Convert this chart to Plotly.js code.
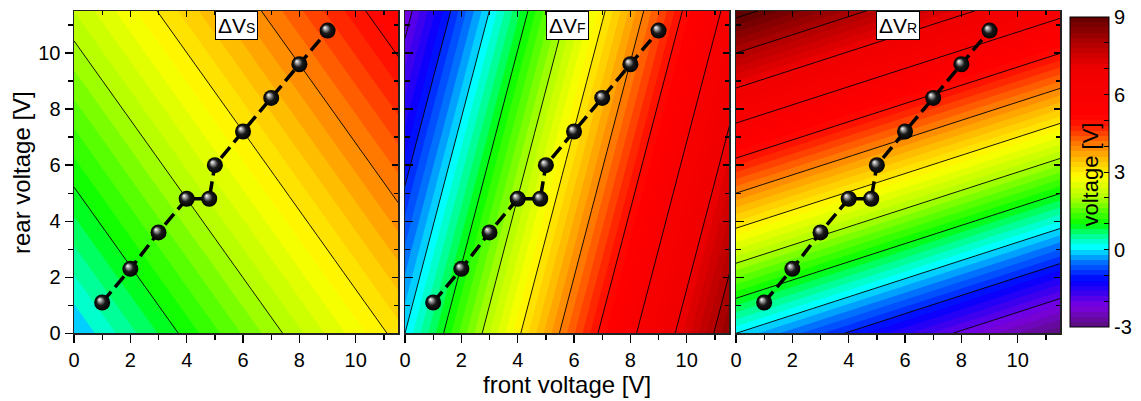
<!DOCTYPE html>
<html>
<head>
<meta charset="utf-8">
<script src="https://cdn.plot.ly/plotly-3.0.1.min.js"></script>
<style>html,body{margin:0;padding:0;background:#fff;}#chart{width:1141px;height:401px;}</style>
</head>
<body>
<div id="chart"></div>
<script>
// ---- data ----
const front = [1, 2, 3, 4, 4.8, 5, 6, 7, 8, 9];
const rear = [1.1, 2.3, 3.6, 4.8, 4.8, 6.0, 7.2, 8.4, 9.6, 10.8];

const gridFront = [0, 6, 12];
const gridRear = [0, 6, 12];
// rows = rear voltage, columns = front voltage
const dVS = [[0.00, 1.62, 3.24], [1.15, 2.77, 4.39], [2.30, 3.92, 5.54]];
const dVF = [[0.00, 4.38, 8.76], [-1.14, 3.24, 7.62], [-2.28, 2.10, 6.48]];
const dVR = [[0.00, -1.56, -3.12], [4.80, 3.24, 1.68], [9.60, 8.04, 6.48]];

const panelLabels = ['ΔV<span style="font-size:14px">S</span>', 'ΔV<span style="font-size:14px">F</span>', 'ΔV<span style="font-size:14px">R</span>'];
const axisTicks = [0, 2, 4, 6, 8, 10];
const cbTickVals = [-3, -2, -1, 0, 1, 2, 3, 4, 5, 6, 7, 8, 9];
const cbTickText = ['-3', '', '', '0', '', '', '3', '', '', '6', '', '', '9'];

// ---- styling ----
const FONT = 'Liberation Sans, Arial, sans-serif';
const colorscale = [
  [0.0, '#5a1078'], [0.0667, '#7a00e0'], [0.15, '#0000ff'], [0.2083, '#0070ff'],
  [0.2583, '#00ffff'], [0.3, '#00ff80'], [0.3333, '#00ff00'], [0.4167, '#b0ff00'],
  [0.4833, '#ffff00'], [0.5333, '#ffc800'], [0.5917, '#ff7800'], [0.65, '#ff1a00'],
  [0.6833, '#ff0000'], [0.8333, '#f00000'], [0.9167, '#b00000'], [1.0, '#600000']
];
const fields = [dVS, dVF, dVR];
const xDom = [[74 / 1141, 398 / 1141], [405 / 1141, 729 / 1141], [736 / 1141, 1060 / 1141]];
const yDom = [(401 - 333.3) / 401, (401 - 11) / 401];
const RANGE = [0, 11.5];

const traces = [];
const layout = {
  width: 1141, height: 401,
  margin: {l: 0, r: 0, t: 0, b: 0},
  paper_bgcolor: '#fff', plot_bgcolor: '#fff',
  showlegend: false,
  font: {family: FONT, size: 20, color: '#000'},
  annotations: []
};

function ax(id) { return id === 1 ? '' : String(id); }

for (let p = 0; p < 3; p++) {
  const xi = ax(p + 1), yi = ax(p + 1);
  const xo = String(p + 4), yo = String(p + 4);
  traces.push({
    type: 'contour', x: gridFront, y: gridRear, z: fields[p],
    xaxis: 'x' + xi, yaxis: 'y' + yi,
    colorscale: colorscale, zauto: false, zmin: -3, zmax: 9,
    autocontour: false,
    contours: {start: -3, end: 9, size: 0.2, coloring: 'fill', showlines: false},
    line: {width: 0},
    hoverinfo: 'skip',
    showscale: p === 0,
    colorbar: {
      x: 1070 / 1141, xanchor: 'left', xpad: 0, ypad: 0,
      y: (401 - 172) / 401, yanchor: 'middle',
      len: 310 / 401, lenmode: 'fraction',
      thickness: 39, thicknessmode: 'pixels',
      outlinewidth: 1, outlinecolor: '#000',
      ticks: 'inside', ticklen: 5, tickcolor: '#000',
      tickvals: cbTickVals, ticktext: cbTickText,
      tickfont: {family: FONT, size: 20, color: '#000'}
    }
  });
  traces.push({
    type: 'contour', x: gridFront, y: gridRear, z: fields[p],
    xaxis: 'x' + xi, yaxis: 'y' + yi,
    autocontour: false,
    contours: {start: -3, end: 9, size: 1, coloring: 'none'},
    line: {color: '#000', width: 0.9},
    showscale: false, hoverinfo: 'skip'
  });
  traces.push({
    type: 'scatter', mode: 'lines+markers', x: front, y: rear,
    xaxis: 'x' + xi, yaxis: 'y' + yi,
    line: {color: '#000', width: 3.5, dash: '14px,6px'},
    marker: {size: 16, color: '#000', line: {width: 0}, gradient: {type: 'radial', color: '#ffffff'}},
    hoverinfo: 'skip'
  });
  // empty trace to create the mirror (top / right) axes
  traces.push({type: 'scatter', x: [], y: [], xaxis: 'x' + xo, yaxis: 'y' + yo, hoverinfo: 'skip'});

  const common = {
    range: RANGE, showgrid: false, zeroline: false,
    showline: true, linecolor: '#222', linewidth: 1.5,
    tickcolor: '#000', tickwidth: 1.3, fixedrange: true
  };
  layout['xaxis' + xi] = Object.assign({}, common, {
    domain: xDom[p], anchor: 'y' + yi,
    tickvals: axisTicks, ticks: 'outside', ticklen: 8,
    minor: {dtick: 1, tick0: 0, ticks: 'outside', ticklen: 5, tickcolor: '#000', tickwidth: 1.3},
    tickfont: {family: FONT, size: 20, color: '#000'}
  });
  layout['yaxis' + yi] = Object.assign({}, common, {
    domain: yDom, anchor: 'x' + xi,
    tickvals: axisTicks,
    ticks: p === 0 ? 'outside' : 'inside', ticklen: 8,
    showticklabels: p === 0,
    minor: {dtick: 1, tick0: 0, ticks: p === 0 ? 'outside' : 'inside', ticklen: 5, tickcolor: '#000', tickwidth: 1.3},
    tickfont: {family: FONT, size: 20, color: '#000'}
  });
  layout['xaxis' + xo] = Object.assign({}, common, {
    overlaying: 'x' + xi, anchor: 'y' + yi, side: 'top',
    tickvals: axisTicks, ticks: 'inside', ticklen: 6, showticklabels: false,
    minor: {dtick: 1, tick0: 0, ticks: 'inside', ticklen: 4, tickcolor: '#000', tickwidth: 1.3}
  });
  layout['yaxis' + yo] = Object.assign({}, common, {
    overlaying: 'y' + yi, anchor: 'x' + xi, side: 'right',
    tickvals: axisTicks, ticks: 'inside', ticklen: 6, showticklabels: false,
    minor: {dtick: 1, tick0: 0, ticks: 'inside', ticklen: 4, tickcolor: '#000', tickwidth: 1.3}
  });

  layout.annotations.push({
    text: panelLabels[p], xref: 'x' + xi + ' domain', yref: 'y' + yi + ' domain',
    x: 0.5, y: 1, xanchor: 'center', yanchor: 'top', showarrow: false,
    bgcolor: '#fff', bordercolor: '#000', borderwidth: 1, borderpad: 2,
    font: {family: FONT, size: 21, color: '#000'}
  });
}

layout.annotations.push({
  text: 'front voltage [V]', xref: 'paper', yref: 'paper',
  x: 567 / 1141, y: (401 - 384) / 401, xanchor: 'center', yanchor: 'middle',
  showarrow: false, font: {family: FONT, size: 24, color: '#000'}
});
layout.annotations.push({
  text: 'rear voltage [V]', xref: 'paper', yref: 'paper',
  x: 21 / 1141, y: (401 - 173) / 401, xanchor: 'center', yanchor: 'middle',
  textangle: -90, showarrow: false, font: {family: FONT, size: 24, color: '#000'}
});
layout.annotations.push({
  text: 'voltage [V]', xref: 'paper', yref: 'paper',
  x: 1089.5 / 1141, y: (401 - 175) / 401, xanchor: 'center', yanchor: 'middle',
  textangle: -90, showarrow: false, font: {family: FONT, size: 22, color: '#000'}
});

Plotly.newPlot('chart', traces, layout, {staticPlot: true, displayModeBar: false}).then(function () {
  // make the radial marker gradient look like a lit sphere
  document.querySelectorAll('radialGradient').forEach(function (g) {
    g.setAttribute('fx', '32%');
    g.setAttribute('fy', '30%');
    const stops = g.querySelectorAll('stop');
    if (stops.length >= 2) {
      const s = document.createElementNS('http://www.w3.org/2000/svg', 'stop');
      s.setAttribute('offset', '0.55');
      s.setAttribute('stop-color', '#1a1a1a');
      g.insertBefore(s, stops[stops.length - 1]);
    }
  });
});
</script>
</body>
</html>
